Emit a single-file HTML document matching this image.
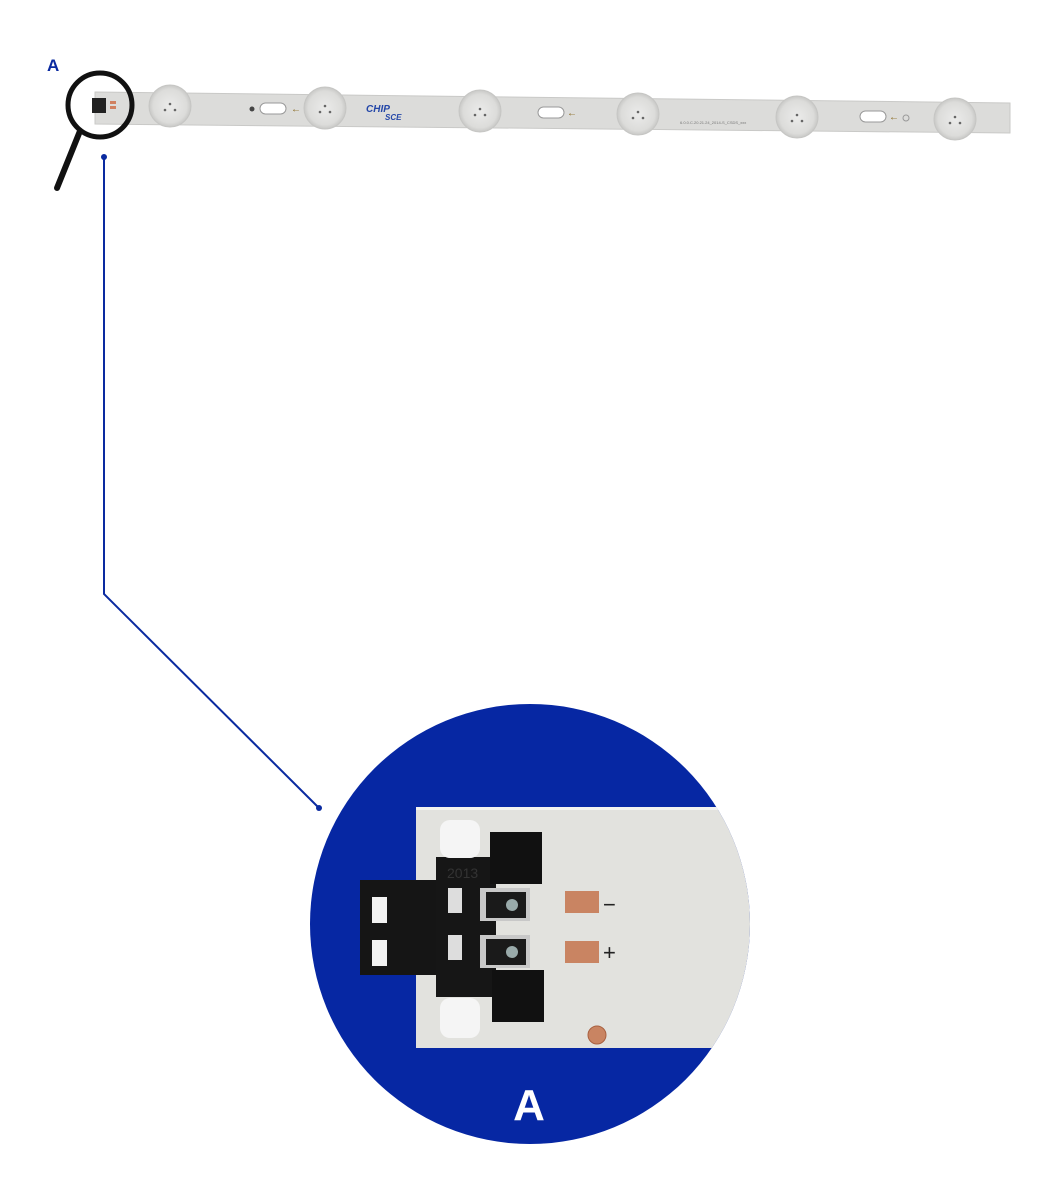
<!DOCTYPE html>
<html><head><meta charset="utf-8"><style>
html,body{margin:0;padding:0;background:#fff}
svg{display:block}
text{font-family:"Liberation Sans",sans-serif}
</style></head><body>
<svg width="1060" height="1200" viewBox="0 0 1060 1200" xmlns="http://www.w3.org/2000/svg">
<defs>
<clipPath id="cc"><circle cx="530" cy="924" r="220"/></clipPath>
<radialGradient id="led" cx="0.5" cy="0.5" r="0.5"><stop offset="0" stop-color="#ebebea"/><stop offset="0.8" stop-color="#dcdcda"/><stop offset="1" stop-color="#c8c8c6"/></radialGradient>
</defs>
<rect width="1060" height="1200" fill="#fff"/>
<!-- top strip -->
<polygon points="95,92 1010,103 1010,133 95,124" fill="#dcdcda" stroke="#c9c9c7" stroke-width="1"/>
<g fill="url(#led)" stroke="#c6c6c4">
<circle cx="170" cy="106" r="21"/><circle cx="325" cy="108" r="21"/><circle cx="480" cy="111" r="21"/>
<circle cx="638" cy="114" r="21"/><circle cx="797" cy="117" r="21"/><circle cx="955" cy="119" r="21"/>
</g>
<g fill="#666">
<circle cx="170" cy="104" r="1.3"/><circle cx="165" cy="110" r="1.3"/><circle cx="175" cy="110" r="1.3"/>
<circle cx="325" cy="106" r="1.3"/><circle cx="320" cy="112" r="1.3"/><circle cx="330" cy="112" r="1.3"/>
<circle cx="480" cy="109" r="1.3"/><circle cx="475" cy="115" r="1.3"/><circle cx="485" cy="115" r="1.3"/>
<circle cx="638" cy="112" r="1.3"/><circle cx="633" cy="118" r="1.3"/><circle cx="643" cy="118" r="1.3"/>
<circle cx="797" cy="115" r="1.3"/><circle cx="792" cy="121" r="1.3"/><circle cx="802" cy="121" r="1.3"/>
<circle cx="955" cy="117" r="1.3"/><circle cx="950" cy="123" r="1.3"/><circle cx="960" cy="123" r="1.3"/>
</g>
<rect x="260" y="103" width="26" height="11" rx="5.5" fill="#fff" stroke="#999"/>
<rect x="538" y="107" width="26" height="11" rx="5.5" fill="#fff" stroke="#999"/>
<rect x="860" y="111" width="26" height="11" rx="5.5" fill="#fff" stroke="#999"/>
<circle cx="252" cy="109" r="2.5" fill="#444"/>
<circle cx="906" cy="118" r="3" fill="none" stroke="#999"/>
<text x="291" y="112" font-size="10" fill="#8a6a20">←</text>
<text x="567" y="116" font-size="10" fill="#8a6a20">←</text>
<text x="889" y="120" font-size="10" fill="#8a6a20">←</text>
<text x="366" y="112" font-size="10" font-weight="bold" font-style="italic" fill="#2447a8">CHIP</text>
<text x="385" y="120" font-size="8" font-weight="bold" font-style="italic" fill="#2447a8">SCE</text>
<text x="680" y="124" font-size="4" fill="#777">6.0.0.C.20.21.24_2014-S_CSDS_xxx</text>
<!-- connector mini -->
<rect x="92" y="98" width="14" height="15" fill="#222"/>
<rect x="110" y="101" width="6" height="3" fill="#d08060"/><rect x="110" y="106" width="6" height="3" fill="#d08060"/>
<!-- magnifier -->
<circle cx="100" cy="105" r="32" fill="none" stroke="#111" stroke-width="5"/>
<line x1="80" y1="131" x2="57" y2="188" stroke="#111" stroke-width="6" stroke-linecap="round"/>
<text x="47" y="71" font-size="17" font-weight="900" fill="#0a2aa0">A</text>
<!-- callout line -->
<polyline points="104,157 104,594 319,808" fill="none" stroke="#0a2aa0" stroke-width="2"/>
<circle cx="104" cy="157" r="3" fill="#0a2aa0"/><circle cx="319" cy="808" r="3" fill="#0a2aa0"/>
<!-- big circle -->
<circle cx="530" cy="924" r="220" fill="#0627a3"/>
<g clip-path="url(#cc)">
<rect x="416" y="807" width="340" height="241" fill="#e2e2de"/>
<rect x="416" y="807" width="340" height="3" fill="#f2f2f0"/>
<rect x="360" y="880" width="85" height="95" fill="#151515"/>
<rect x="372" y="897" width="15" height="26" fill="#f2f2f2"/><rect x="372" y="940" width="15" height="26" fill="#f2f2f2"/>
<rect x="436" y="857" width="60" height="140" fill="#161616"/>
<rect x="490" y="832" width="52" height="52" fill="#111"/>
<rect x="492" y="970" width="52" height="52" fill="#111"/>
<rect x="440" y="820" width="40" height="38" rx="10" fill="#f5f5f5"/>
<rect x="440" y="998" width="40" height="40" rx="10" fill="#f5f5f5"/>
<rect x="448" y="888" width="14" height="25" fill="#ddd"/><rect x="448" y="935" width="14" height="25" fill="#ddd"/>
<rect x="480" y="888" width="50" height="33" fill="#c8c8c8"/><rect x="486" y="892" width="40" height="26" fill="#1a1a1a"/>
<rect x="480" y="935" width="50" height="33" fill="#c8c8c8"/><rect x="486" y="939" width="40" height="26" fill="#1a1a1a"/>
<circle cx="512" cy="905" r="6" fill="#9aa"/><circle cx="512" cy="952" r="6" fill="#9aa"/>
<text x="447" y="878" font-size="14" fill="#333">2013</text>
<rect x="565" y="891" width="34" height="22" fill="#c98462"/>
<rect x="565" y="941" width="34" height="22" fill="#c98462"/>
<text x="603" y="912" font-size="22" fill="#222">−</text>
<text x="603" y="960" font-size="22" fill="#222">+</text>
<circle cx="597" cy="1035" r="9" fill="#c98462" stroke="#a86040"/>
</g>
<text x="529" y="1120" font-size="44" font-weight="900" fill="#fff" text-anchor="middle">A</text>
</svg>
</body></html>
